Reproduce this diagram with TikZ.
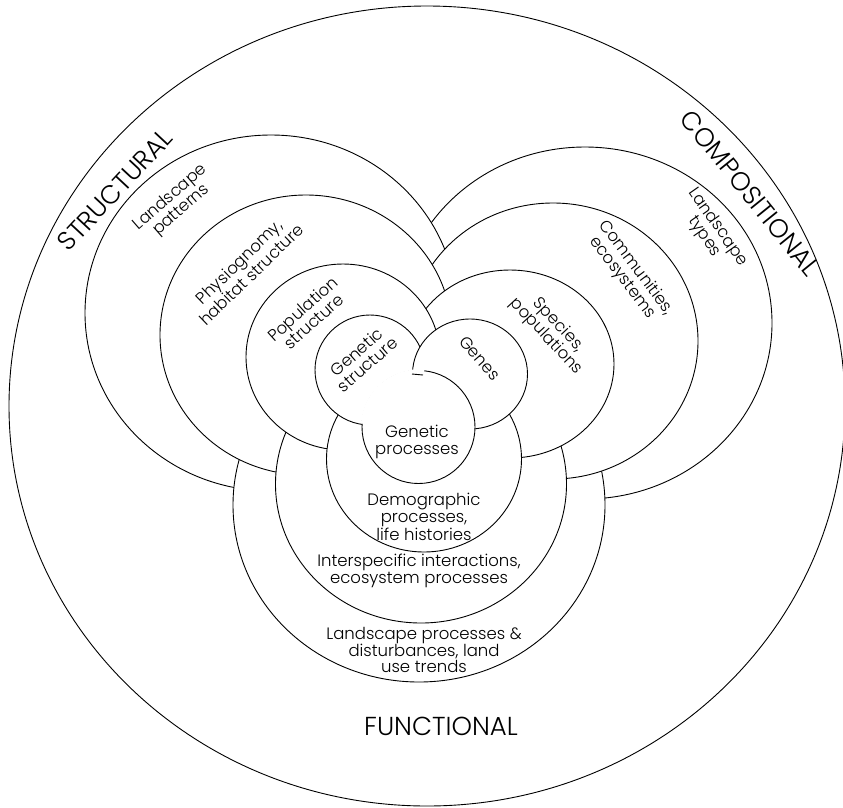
\documentclass[tikz,border=0pt]{standalone}
\usepackage{fontspec}
\setmainfont{Poppins}[UprightFont=* Light]
\usepackage{tikz}

\begin{document}
\begin{tikzpicture}[x=1pt,y=-1pt,
        ring/.style={draw,fill=white,line width=0.9pt},
        lbl/.style={font=\fontsize{16.5}{16.7}\selectfont,align=center},
        cat/.style={font=\fontsize{26}{30}\selectfont}]
        \useasboundingbox (0,0) rectangle (843,807);
        \draw[ring] (427,406) ellipse [x radius=418pt,y radius=400pt];
        \draw[ring] (585,323) ellipse [x radius=187pt,y radius=176pt];
        \draw[ring] (271,313) ellipse [x radius=186pt,y radius=178pt];
        \draw[ring] (419,505) ellipse [x radius=186pt,y radius=177pt];
        \draw[ring] (553,341) ellipse [x radius=145pt,y radius=138pt];
        \draw[ring] (306,335) ellipse [x radius=146pt,y radius=140pt];
        \draw[ring] (421,484) ellipse [x radius=145.5pt,y radius=139pt];
        \draw[ring] (510,364) ellipse [x radius=104pt,y radius=94pt];
        \draw[ring] (343,357) ellipse [x radius=97pt,y radius=93pt];
        \draw[ring] (424,459) ellipse [x radius=97.5pt,y radius=93pt];
        \draw[ring] (370,370) circle [radius=55pt];
        \draw[ring] (470,374) ellipse [x radius=57.5pt,y radius=55pt];
        \draw[ring] (418.5,427) circle [radius=56.5pt];
        \begin{scope}
            \clip (370,370) circle [radius=54.3pt];
            \fill[white] (418.5,427) circle [radius=57.6pt];
        \end{scope}
        \draw[line width=0.9pt] (412,374) -- (423,375);
        \node[cat,rotate=47] (structural) at (115,190) {STRUCTURAL};
        \node[cat,rotate=-51] (compositional) at (750,193) {COMPOSITIONAL};
        \node[cat] (functional) at (441,726) {FUNCTIONAL};
        \node[lbl,rotate=41] (lpatterns) at (176,204) {Landscape\\patterns};
        \node[lbl,rotate=44] (physio) at (245,268) {Physiognomy,\\habitat structure};
        \node[lbl,rotate=42] (popstruct) at (308,315) {Population\\structure};
        \node[lbl,rotate=41] (genstruct) at (362,358) {Genetic\\structure};
        \node[lbl,rotate=-49] (genes) at (480,358) {Genes};
        \node[lbl,rotate=-47] (species) at (552,331) {Species,\\populations};
        \node[lbl,rotate=-53] (communities) at (629,273) {Communities,\\ecosystems};
        \node[lbl,rotate=-55] (ltypes) at (711,232) {Landscape\\types};
        \node[lbl] (genproc) at (417,442) {Genetic\\processes};
        \node[lbl] (demog) at (424,517) {Demographic\\processes,\\life histories};
        \node[lbl] (interspec) at (419,571) {Interspecific interactions,\\ecosystem processes};
        \node[lbl] (lproc) at (424,650) {Landscape processes \&\\disturbances, land\\use trends};
    \end{tikzpicture}
\end{document}
